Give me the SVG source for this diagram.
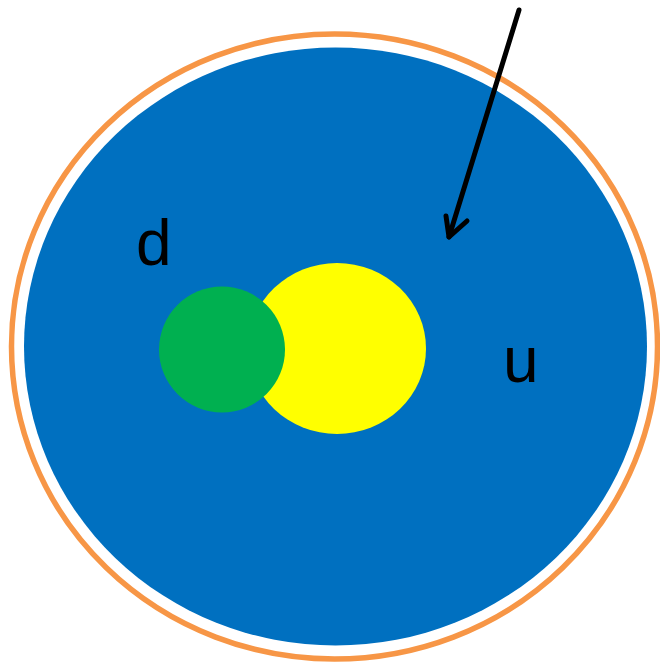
<svg xmlns="http://www.w3.org/2000/svg" width="660" height="665" viewBox="0 0 660 665">
<style>
.lbl{font-family:"Liberation Sans",Arial,sans-serif;font-size:64px;fill:#000}
.arrow{stroke:#000;stroke-width:5;fill:none;stroke-linecap:round;stroke-linejoin:round}
</style>
<rect width="660" height="665" fill="#fff"/>
<g id="outer"><ellipse cx="334.5" cy="346.5" rx="323" ry="312.5" fill="none" stroke="#F79646" stroke-width="5.5"/></g>
<g id="u"><ellipse cx="335.5" cy="346.5" rx="311.5" ry="299" fill="#0070C0"/><text class="lbl" x="503" y="382">u</text></g>
<g id="d-label"><text class="lbl" x="136" y="265">d</text></g>
<g id="yellow"><ellipse cx="337" cy="348.5" rx="89" ry="85.5" fill="#FFFF00"/></g>
<g id="green"><circle cx="222" cy="349.5" r="63" fill="#00B050"/></g>
<g id="connectors">
<path class="arrow" d="M519,10 L449,237"/>
<path class="arrow" d="M446,216 L449,237 L467,221"/>
</g>
</svg>
